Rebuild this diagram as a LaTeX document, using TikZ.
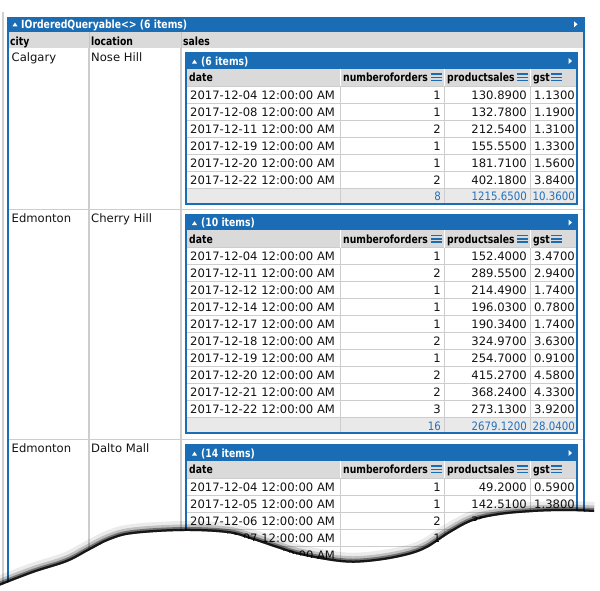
\documentclass[tikz,border=0pt]{standalone}
\usepackage{fontspec}
\setmainfont{DejaVu Sans}
\newfontfamily\hdrfam[FakeStretch=0.82]{DejaVu Sans}
\newfontfamily\totfam[FakeStretch=0.88]{DejaVu Sans}
\definecolor{lqblue}{HTML}{1A6DB5}
\definecolor{hdrgray}{HTML}{DADADA}
\definecolor{gridgray}{HTML}{CDCDCD}
\definecolor{sepgray}{HTML}{C4C4C4}
\definecolor{totbg}{HTML}{E9E9E9}
\definecolor{totblue}{HTML}{2470BC}
\definecolor{txt}{HTML}{141414}
\definecolor{framegray}{HTML}{CFCFCF}
\newcommand\datafont{\fontsize{11.6}{13}\selectfont}
\newcommand\totfont{\totfam\fontsize{11.6}{13}\selectfont}
\newcommand\boldfont{\hdrfam\bfseries\fontsize{11.3}{13}\selectfont}
\tikzset{
  datatxt/.style={inner sep=0pt, text=txt, font=\datafont},
  tottxt/.style={inner sep=0pt, text=totblue, font=\totfont, anchor=base east},
  colhdr/.style={inner sep=0pt, text=black, font=\boldfont, anchor=base west},
  titletxt/.style={inner sep=0pt, text=white, font=\boldfont, anchor=base west},
  gridline/.style={draw=gridgray, line width=1pt},
  hdrsep/.style={draw=white, line width=1pt},
  bluebox/.style={draw=lqblue, line width=2pt},
  outersep/.style={draw=gridgray, line width=1.5pt},
  shadowline/.style={draw=black, line cap=butt, line join=round},
}
\newcommand\uptri[2]{\fill[white] (#1,#2+2) -- (#1+2.5,#2-1.8) -- (#1+5,#2+2) -- cycle;}
\newcommand\righttri[2]{\fill[white] (#1,#2-3) -- (#1+3.5,#2) -- (#1,#2+3) -- cycle;}
\newcommand\menuicon[2]{\foreach \dy in {-3.3,0,3.3}{\draw[lqblue, line width=1.4pt] (#1-5.5,#2+\dy) -- (#1+5.5,#2+\dy);}}
% #1 top y, #2 item count, #3 rows drawn, #4 name prefix
\newcommand\nested[4]{%
  \pgfmathsetmacro\Ya{#1+15.5}%
  \pgfmathsetmacro\Yb{#1+33}%
  \pgfmathsetmacro\Yc{#1+33+17*#3}%
  \pgfmathsetmacro\Yd{\Yc+15.5}%
  \fill[lqblue] (186,#1) rectangle (577,\Ya);
  \uptri{192}{#1+8.5}
  \node[titletxt] (#4title) at (201,#1+12) {(#2 items)};
  \righttri{568.5}{#1+8}
  \fill[hdrgray] (186,\Ya) rectangle (577,\Yb);
  \fill[white] (186,\Yb) rectangle (577,\Yc);
  \fill[totbg] (186,\Yc) rectangle (577,\Yd);
  \foreach \k in {0,...,#3}{\draw[gridline] (186,\Yb+17*\k) -- (577,\Yb+17*\k);}
  \foreach \xx in {340.5,444.5,530.5}{\draw[hdrsep] (\xx,\Ya) -- (\xx,\Yb); \draw[gridline] (\xx,\Yb) -- (\xx,\Yd);}
  \draw[bluebox] (186,#1) rectangle (577,\Yd);
  \node[colhdr] (#4h1) at (189,#1+28.5) {date};
  \node[colhdr] (#4h2) at (343,#1+28.5) {numberoforders};
  \node[colhdr] (#4h3) at (447,#1+28.5) {productsales};
  \node[colhdr] (#4h4) at (533,#1+28.5) {gst};
  \menuicon{436.5}{#1+24.3}
  \menuicon{522.5}{#1+24.3}
  \menuicon{556.5}{#1+24.3}
}
% #1 first data row top, #2 prefix, #3 list
\newcommand\datarows[3]{%
  \foreach \vd/\vn/\vp/\vg [count=\i from 0] in {#3}{
    \node[datatxt, anchor=base west] (#2d\i) at (190,#1+17*\i+13) {\vd\ 12:00:00 AM};
    \node[datatxt, anchor=base east] (#2n\i) at (441,#1+17*\i+13) {\vn};
    \node[datatxt, anchor=base east] (#2p\i) at (527,#1+17*\i+13) {\vp};
    \node[datatxt, anchor=base east] (#2g\i) at (575,#1+17*\i+13) {\vg};
  }}
\begin{document}
\begin{tikzpicture}[x=1pt, y=-1pt]
\useasboundingbox (0,0) rectangle (600,590);
\fill[white] (0,0) rectangle (600,590);
\begin{scope}
\clip plot[smooth, tension=0.6] coordinates {(-6,588) (33,573) (67,562) (90,550) (110,540) (133,534) (183,531) (227,533) (250,539) (277,548) (300,555) (340,562) (367,562) (400,557) (425,549) (450,533) (473,521) (500,515) (533,512) (567,511) (594,512)} -- (605,512) -- (605,-5) -- (-6,-5) -- cycle;
% outer frame
\draw[framegray, line width=2pt] (3,12) -- (3,600);
\fill[lqblue] (7,17) rectangle (584,32);
\uptri{12.5}{24.3}
\node[titletxt] (title) at (21,28.7) {IOrderedQueryable<> (6 items)};
\righttri{574}{24.3}
\fill[hdrgray] (7,32) rectangle (584,48);
\node[colhdr] (hcity) at (10,45) {city};
\node[colhdr] (hloc) at (91,45) {location};
\node[colhdr] (hsales) at (183,45) {sales};
\draw[sepgray, line width=1pt] (89,32) -- (89,48);
\draw[sepgray, line width=1pt] (181,32) -- (181,48);
\draw[outersep] (89,48) -- (89,600);
\draw[outersep] (181,48) -- (181,600);
\draw[outersep] (8,209.5) -- (584,209.5);
\draw[outersep] (8,439.5) -- (584,439.5);
\draw[lqblue, line width=2pt] (8,17) -- (8,600);
\draw[lqblue, line width=2pt] (583.5,17) -- (583.5,600);
% outer cells
\node[datatxt, anchor=base west] (c1) at (11.5,61.5) {Calgary};
\node[datatxt, anchor=base west] (l1) at (91,61.5) {Nose Hill};
\node[datatxt, anchor=base west] (c2) at (11.5,222.5) {Edmonton};
\node[datatxt, anchor=base west] (l2) at (91,222.5) {Cherry Hill};
\node[datatxt, anchor=base west] (c3) at (11.5,452.5) {Edmonton};
\node[datatxt, anchor=base west] (l3) at (91,452.5) {Dalto Mall};
% nested table 1
\nested{53}{6}{6}{a}
\datarows{86}{a}{2017-12-04/1/130.8900/1.1300, 2017-12-08/1/132.7800/1.1900, 2017-12-11/2/212.5400/1.3100, 2017-12-19/1/155.5500/1.3300, 2017-12-20/1/181.7100/1.5600, 2017-12-22/2/402.1800/3.8400}
\node[tottxt] (atn) at (441,200.5) {8};
\node[tottxt] (atp) at (527,200.5) {1215.6500};
\node[tottxt] (atg) at (575,200.5) {10.3600};
% nested table 2
\nested{214.5}{10}{10}{b}
\datarows{247.5}{b}{2017-12-04/1/152.4000/3.4700, 2017-12-11/2/289.5500/2.9400, 2017-12-12/1/214.4900/1.7400, 2017-12-14/1/196.0300/0.7800, 2017-12-17/1/190.3400/1.7400, 2017-12-18/2/324.9700/3.6300, 2017-12-19/1/254.7000/0.9100, 2017-12-20/2/415.2700/4.5800, 2017-12-21/2/368.2400/4.3300, 2017-12-22/3/273.1300/3.9200}
\node[tottxt] (btn) at (441,430) {16};
\node[tottxt] (btp) at (527,430) {2679.1200};
\node[tottxt] (btg) at (575,430) {28.0400};
% nested table 3 (torn)
\nested{445}{14}{8}{c}
\datarows{478}{c}{2017-12-04/1/49.2000/0.5900, 2017-12-05/1/142.5100/1.3800}
\node[datatxt, anchor=base west] (cd2) at (190,525) {2017-12-06 12:00:00 AM};
\node[datatxt, anchor=base east] (cn2) at (441,525) {2};
\node[datatxt, anchor=base west] (cp2) at (471,525) {35};
\node[datatxt, anchor=base west] (cd3) at (190,542) {2017-12-07 12:00:00 AM};
\node[datatxt, anchor=base east] (cn3) at (441,542) {1};
\node[datatxt, anchor=base west] (cd4) at (190,559) {\phantom{2017-12-00 }12:00:00 AM};
% tear shadow
\draw[shadowline, opacity=0.08, line width=20pt] plot[smooth, tension=0.6] coordinates {(-6,588) (33,573) (67,562) (90,550) (110,540) (133,534) (183,531) (227,533) (250,539) (277,548) (300,555) (340,562) (367,562) (400,557) (425,549) (450,533) (473,521) (500,515) (533,512) (567,511) (594,512)};
\draw[shadowline, opacity=0.18, line width=13pt] plot[smooth, tension=0.6] coordinates {(-6,588) (33,573) (67,562) (90,550) (110,540) (133,534) (183,531) (227,533) (250,539) (277,548) (300,555) (340,562) (367,562) (400,557) (425,549) (450,533) (473,521) (500,515) (533,512) (567,511) (594,512)};
\draw[shadowline, opacity=0.4, line width=8pt] plot[smooth, tension=0.6] coordinates {(-6,588) (33,573) (67,562) (90,550) (110,540) (133,534) (183,531) (227,533) (250,539) (277,548) (300,555) (340,562) (367,562) (400,557) (425,549) (450,533) (473,521) (500,515) (533,512) (567,511) (594,512)};
\draw[shadowline, opacity=0.8, line width=4.5pt] plot[smooth, tension=0.6] coordinates {(-6,588) (33,573) (67,562) (90,550) (110,540) (133,534) (183,531) (227,533) (250,539) (277,548) (300,555) (340,562) (367,562) (400,557) (425,549) (450,533) (473,521) (500,515) (533,512) (567,511) (594,512)};
\end{scope}
\end{tikzpicture}
\end{document}
